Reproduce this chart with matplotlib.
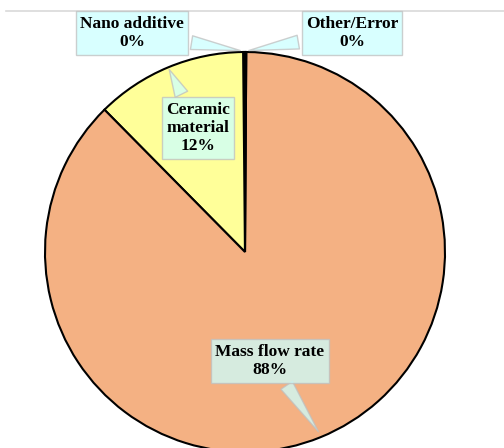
import matplotlib.pyplot as plt

# slice data (order: counter-clockwise from the top)
labels = ["Nano additive", "Ceramic material", "Mass flow rate", "Other/Error"]
values = [0.15, 12.25, 87.5, 0.1]
colors = ["#808000", "#FFFF99", "#F4B183", "#404040"]

# callout box centres and pointer tips (pixel coords, y measured from top)
box_xy = [(132, 33), (198, 128), (270, 361), (352, 33)]
tip_xy = [(243, 51), (168, 67), (320, 434), (246, 51)]

W, H = 504, 448
fig = plt.figure(figsize=(W / 100, H / 100), dpi=100)
ax = fig.add_axes([0, 0, 1, 1])

ax.pie(values, colors=colors, startangle=90, counterclock=True,
       center=(245, H - 252), radius=200,
       wedgeprops=dict(edgecolor="black", linewidth=1.5))

# thin rule along the top
ax.plot([6, W], [H - 11, H - 11], color="#D9D9D9", lw=1.2, zorder=0)

for lab, v, (bx, by), (tx, ty) in zip(labels, values, box_xy, tip_xy):
    txt = lab.replace("Ceramic material", "Ceramic\nmaterial") + "\n" + f"{v:.0f}%"
    ax.annotate(txt, xy=(tx, H - ty), xytext=(bx, H - by),
                ha="center", va="center", fontsize=12.5, fontweight="bold",
                family="Liberation Serif", linespacing=1.2, zorder=5,
                bbox=dict(boxstyle="square,pad=0.25", fc="#CCFFFF", ec="#BFBFBF",
                          lw=1, alpha=0.75),
                arrowprops=dict(arrowstyle="wedge,tail_width=0.8,shrink_factor=0.5",
                                fc="#CCFFFF", ec="#BFBFBF", lw=1, alpha=0.75))

ax.set_xlim(0, W)
ax.set_ylim(0, H)
ax.axis("off")

fig.savefig("out.png", dpi=100)
